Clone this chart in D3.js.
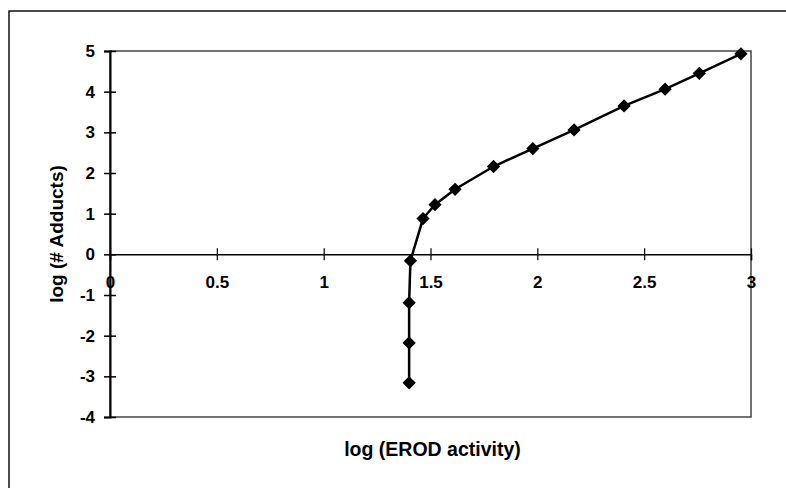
<!DOCTYPE html>
<html>
<head>
<meta charset="utf-8">
<script src="https://cdn.jsdelivr.net/npm/d3@7"></script>
<style>
  html, body { margin: 0; background: #fff; overflow: hidden; }
  svg { display: block; }
  text { font-family: "Liberation Sans", Arial, Helvetica, sans-serif; font-weight: bold; fill: #000; }
</style>
</head>
<body>
<div id="chart"></div>
<script>
// values
const erod = [1.40, 1.40, 1.40, 1.406, 1.465, 1.521, 1.615, 1.795, 1.979, 2.172, 2.406, 2.598, 2.758, 2.953];
const adducts = [-3.16, -2.18, -1.19, -0.16, 0.88, 1.22, 1.60, 2.16, 2.60, 3.06, 3.65, 4.06, 4.45, 4.93];
const xTicks = [0, 0.5, 1, 1.5, 2, 2.5, 3];
const yTicks = [-4, -3, -2, -1, 0, 1, 2, 3, 4, 5];

const points = erod.map((x, i) => ({ x, y: adducts[i] }));

const svg = d3.select('#chart')
  .append('svg')
  .attr('width', 786)
  .attr('height', 488);

// outer chart frame: only left and top edges are inside the page
svg.append('path')
  .attr('d', 'M9,488V11H786')
  .attr('fill', 'none')
  .attr('stroke', '#111')
  .attr('stroke-width', 1.5);

const x = d3.scaleLinear().domain([0, 3]).range([110, 751]);
const y = d3.scaleLinear().domain([-4, 5]).range([417, 51]);

// plot area border
svg.append('rect')
  .attr('x', x(0)).attr('y', y(5))
  .attr('width', x(3) - x(0)).attr('height', y(-4) - y(5))
  .attr('fill', 'none')
  .attr('stroke', '#444')
  .attr('stroke-width', 1.5);

// y axis, ticks cross the line
const yAxis = svg.append('g')
  .attr('transform', `translate(${x(0)},0)`)
  .call(d3.axisLeft(y).tickValues(yTicks).tickFormat(d => String(d)).tickSize(6).tickPadding(9));
yAxis.attr('font-size', null).attr('font-family', null);
yAxis.select('.domain').attr('stroke', '#000').attr('stroke-width', 2);
yAxis.selectAll('.tick line').attr('x1', 6).attr('stroke-width', 1.5);
yAxis.selectAll('.tick text').style('font-size', '17px');

// x axis sits at y = 0
const xAxis = svg.append('g')
  .attr('transform', `translate(0,${y(0)})`)
  .call(d3.axisBottom(x).tickValues(xTicks).tickFormat(d => String(d)).tickSize(6).tickPadding(16));
xAxis.attr('font-size', null).attr('font-family', null);
xAxis.select('.domain').attr('stroke', '#000').attr('stroke-width', 1.5);
xAxis.selectAll('.tick line').attr('y1', -6).attr('stroke-width', 1.2);
xAxis.selectAll('.tick text').style('font-size', '17px');

const line = d3.line().x(d => x(d.x)).y(d => y(d.y));
svg.append('path')
  .datum(points)
  .attr('d', line)
  .attr('fill', 'none')
  .attr('stroke', '#000')
  .attr('stroke-width', 2.5);

// diamonds = squares turned 45 degrees
const diamond = d3.symbol().type(d3.symbolSquare).size(88);
svg.selectAll('.pt')
  .data(points)
  .join('path')
  .attr('class', 'pt')
  .attr('d', diamond)
  .attr('transform', d => `translate(${x(d.x)},${y(d.y)}) rotate(45)`)
  .attr('fill', '#000');

svg.append('text')
  .attr('x', (x(0) + x(3)) / 2 + 2)
  .attr('y', 456)
  .attr('text-anchor', 'middle')
  .style('font-size', '19.5px')
  .text('log (EROD activity)');

svg.append('text')
  .attr('transform', `translate(63,${(y(5) + y(-4)) / 2}) rotate(-90)`)
  .attr('text-anchor', 'middle')
  .style('font-size', '19px')
  .text('log (# Adducts)');
</script>
</body>
</html>
